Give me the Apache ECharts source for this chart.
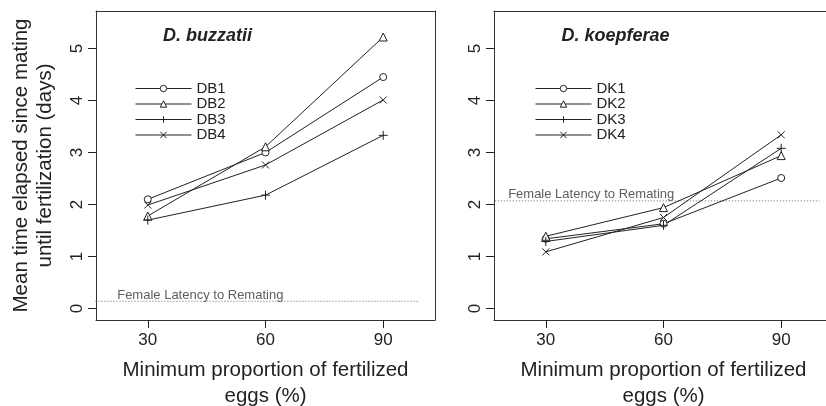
<!DOCTYPE html>
<html>
<head>
<meta charset="utf-8">
<script src="https://cdn.jsdelivr.net/npm/echarts@6/dist/echarts.min.js"></script>
<style>html,body{margin:0;padding:0;background:#fff;overflow:hidden;}#c{width:826px;height:406px;}</style>
</head>
<body>
<div id="c"></div>
<script>
const xValues = [30, 60, 90];
const yTicks = [0, 1, 2, 3, 4, 5];
const db1 = [2.10, 3.00, 4.45];
const db2 = [1.78, 3.11, 5.22];
const db3 = [1.70, 2.18, 3.33];
const db4 = [1.99, 2.76, 4.01];
const dk1 = [1.34, 1.63, 2.51];
const dk2 = [1.39, 1.94, 2.94];
const dk3 = [1.29, 1.60, 3.08];
const dk4 = [1.09, 1.75, 3.34];
const namesDB = ['DB1', 'DB2', 'DB3', 'DB4'];
const namesDK = ['DK1', 'DK2', 'DK3', 'DK4'];
const latencyDB = 0.14;
const latencyDK = 2.07;
const latencyText = 'Female Latency to Remating';
const titleDB = 'D. buzzatii';
const titleDK = 'D. koepferae';
const xTitle = 'Minimum proportion of fertilized\neggs (%)';
const yTitle = 'Mean time elapsed since mating\nuntil fertilization (days)';

const FONT = '"Liberation Sans", Arial, Helvetica, sans-serif';
const INK = '#222';
const BOX = '#333';
const symbols = [
  'path://M5,0A5,5 0 1,1 4.99,0Z',
  'path://M5,0L10,9L0,9Z',
  'path://M0,5L10,5M5,0L5,10',
  'path://M0,0L10,10M0,10L10,0'
];
const symSizes = [7, 8, 9, 7];
const X_MIN = 16.8, X_MAX = 103.2, Y_MIN = -0.22, Y_MAX = 5.72;

const chart = echarts.init(document.getElementById('c'), null, {renderer: 'canvas'});

function pairs(vals) { return xValues.map((x, i) => [x, vals[i]]); }

// axis indices: grid gi uses xAxis 2*gi (bottom) and yAxis 2*gi (left)
function dataSeries(name, vals, k, gi) {
  return {
    type: 'line', name: name, xAxisIndex: 2 * gi, yAxisIndex: 2 * gi,
    data: pairs(vals),
    symbol: symbols[k], symbolSize: symSizes[k],
    lineStyle: {color: INK, width: 1},
    itemStyle: {color: '#fff', borderColor: INK, borderWidth: 1},
    emphasis: {disabled: true},
    z: 3
  };
}

function latencySeries(y, gi, x0, x1, lx, ly) {
  return [{
    type: 'line', xAxisIndex: 2 * gi, yAxisIndex: 2 * gi, clip: false, silent: true,
    data: [[x0, y], [x1, y]], symbol: 'none',
    lineStyle: {color: '#666', width: 1, type: [1, 2]}, z: 2
  }, {
    type: 'scatter', xAxisIndex: 2 * gi, yAxisIndex: 2 * gi, silent: true,
    data: [[lx, ly]], symbolSize: 0,
    label: {show: true, position: 'right', distance: 0, formatter: latencyText,
      fontFamily: FONT, fontSize: 13, color: '#333'}
  }];
}

const boxLine = {show: true, onZero: false, lineStyle: {color: BOX, width: 1}};

function xAxes(gi) {
  return [{
    type: 'value', gridIndex: gi, position: 'bottom', min: X_MIN, max: X_MAX,
    axisLine: boxLine,
    axisTick: {show: true, length: 8, customValues: xValues, lineStyle: {color: INK}},
    axisLabel: {customValues: xValues, margin: 12, fontFamily: FONT, fontSize: 17, color: INK},
    splitLine: {show: false},
    name: xTitle, nameLocation: 'middle', nameGap: 37,
    nameTextStyle: {fontFamily: FONT, fontSize: 20.5, color: INK, lineHeight: 26}
  }, {
    type: 'value', gridIndex: gi, position: 'top', min: X_MIN, max: X_MAX,
    axisLine: boxLine,
    axisTick: {show: false}, axisLabel: {show: false}, splitLine: {show: false}
  }];
}

function yAxes(gi, withName, rightEdgeVisible) {
  const a = {
    type: 'value', gridIndex: gi, position: 'left', min: Y_MIN, max: Y_MAX,
    axisLine: boxLine,
    axisTick: {show: true, length: 8, customValues: yTicks, lineStyle: {color: INK}},
    axisLabel: {customValues: yTicks, rotate: 90, margin: 10, fontFamily: FONT, fontSize: 17, color: INK,
      formatter: v => String(Math.round(v))},
    splitLine: {show: false}
  };
  if (withName) {
    a.name = yTitle; a.nameLocation = 'middle'; a.nameRotate = 90; a.nameGap = 39;
    a.nameTextStyle = {fontFamily: FONT, fontSize: 20.5, color: INK, lineHeight: 23.5};
  }
  return [a, {
    type: 'value', gridIndex: gi, position: 'right', min: Y_MIN, max: Y_MAX,
    show: rightEdgeVisible,
    axisLine: Object.assign({}, boxLine, {show: rightEdgeVisible}),
    axisTick: {show: false}, axisLabel: {show: false}, splitLine: {show: false}
  }];
}

function legend(names, left) {
  return {
    data: names, orient: 'vertical', left: left, top: 81,
    itemWidth: 56, itemHeight: 8, itemGap: 0.5, padding: 0,
    selectedMode: false,
    lineStyle: {width: 1, color: INK},
    itemStyle: {color: '#fff', borderColor: INK, borderWidth: 1},
    textStyle: {fontFamily: FONT, fontSize: 15, color: INK, lineHeight: 14, padding: [0, 0, 0, 0]}
  };
}

const series = [];
[db1, db2, db3, db4].forEach((v, k) => series.push(dataSeries(namesDB[k], v, k, 0)));
[dk1, dk2, dk3, dk4].forEach((v, k) => series.push(dataSeries(namesDK[k], v, k, 1)));
series.push(...latencySeries(latencyDB, 0, 15.9, 99.3, 22.2, 0.25));
series.push(...latencySeries(latencyDK, 1, 14.7, 99.7, 20.4, 2.19));

const gridBase = {top: 11, bottom: 86, show: false, containLabel: false, outerBoundsMode: 'none'};

chart.setOption({
  animation: false,
  backgroundColor: '#fff',
  textStyle: {fontFamily: FONT},
  title: [
    {text: titleDB, left: 163, top: 27, padding: 0,
      textStyle: {fontFamily: FONT, fontSize: 18, fontWeight: 'bold', fontStyle: 'italic', color: INK}},
    {text: titleDK, left: 561.5, top: 27, padding: 0,
      textStyle: {fontFamily: FONT, fontSize: 18, fontWeight: 'bold', fontStyle: 'italic', color: INK}}
  ],
  legend: [legend(namesDB, 135), legend(namesDK, 535)],
  grid: [
    Object.assign({left: 96, right: 391}, gridBase),
    Object.assign({left: 494, right: -7}, gridBase)
  ],
  xAxis: [...xAxes(0), ...xAxes(1)],
  yAxis: [...yAxes(0, true, true), ...yAxes(1, false, false)],
  series: series
});
</script>
</body>
</html>
